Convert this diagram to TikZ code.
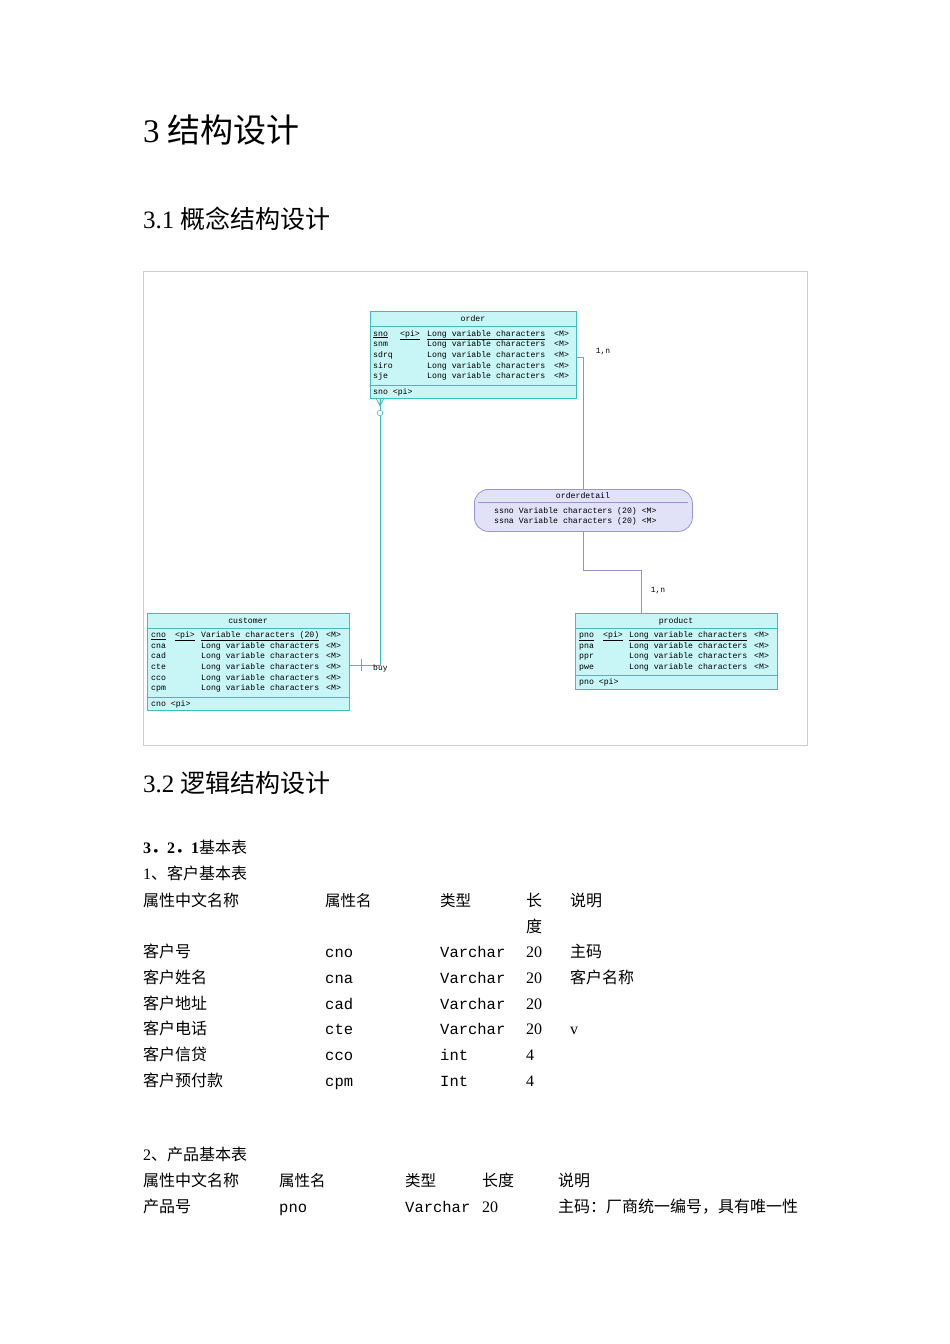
\documentclass[tikz,border=0pt]{standalone}
\usepackage{fontspec}
\setmainfont{Liberation Serif}
\setmonofont{Liberation Mono}
\newfontfamily\cjk{Noto Sans CJK SC}
\definecolor{tcyan}{RGB}{200,245,245}
\definecolor{tedge}{RGB}{60,190,190}
\definecolor{tpurp}{RGB}{225,225,248}
\definecolor{pedge}{RGB}{150,150,210}
\definecolor{lpurp}{RGB}{150,140,210}
\tikzset{
 tbl/.style={draw=tedge,fill=tcyan,line width=0.8pt,inner sep=0,anchor=north west},
 att/.style={anchor=base west,inner sep=0,font=\fontsize{8.2}{8}\ttfamily},
 ttl/.style={anchor=base,inner sep=0,font=\fontsize{8.2}{8}\ttfamily},
 body/.style={anchor=base west,inner sep=0,font=\fontsize{16}{18}\selectfont},
 bmono/.style={body,font=\fontsize{15.5}{18}\ttfamily},
 rel/.style={draw=lpurp,line width=0.7pt},
 card/.style={inner sep=0,font=\fontsize{8}{8}\ttfamily},
}
\begin{document}
\begin{tikzpicture}[x=1pt,y=-1pt]
\useasboundingbox (0,0) rectangle (950,1344);
\node[body,font=\fontsize{33}{36}\selectfont] (h1) at (143,142) {3 {\cjk 结构设计}};
\node[body,font=\fontsize{25}{28}\selectfont] (h2) at (143,228) {3.1 {\cjk 概念结构设计}};
\draw[gray!40,line width=0.6pt] (143,271) rectangle (807,745);

% order
\node[tbl,minimum width=206pt,minimum height=87pt] (order) at (370,311) {};
\draw[tedge] (370,326)--(576,326) (370,385)--(576,385);
\node[ttl] (ordt) at (473,321) {order};
\foreach \n/\y/\p in {sno/336/1,snm/346.7/0,sdrq/357.4/0,siro/368.1/0,sje/378.8/0}{
 \node[att] at (373,\y) {\ifnum\p=1\underline{\n}\else\n\fi};
 \node[att] at (427,\y) {\ifnum\p=1\underline{Long variable characters}\else Long variable characters\fi};
 \node[att] at (554,\y) {<M>};}
\node[att] at (400,336) {\underline{<pi>}};
\node[att] (ordf) at (373,394) {sno <pi>};

% orderdetail
\node[draw=pedge,fill=tpurp,rounded corners=14pt,minimum width=218pt,minimum height=42pt,anchor=north west,inner sep=0,line width=0.8pt] (od) at (474,489) {};
\draw[pedge] (478,502)--(688,502);
\node[ttl] at (583,498) {orderdetail};
\node[att] at (494,513) {ssno Variable characters (20) <M>};
\node[att] at (494,523.5) {ssna Variable characters (20) <M>};

% customer
\node[tbl,minimum width=202pt,minimum height=97pt] (cust) at (147,613) {};
\draw[tedge] (147,628)--(349,628) (147,697)--(349,697);
\node[ttl] at (248,623) {customer};
\node[att] at (175,637.5) {\underline{<pi>}};
\node[att] at (201,637.5) {\underline{Variable characters (20)}};
\foreach \n/\y in {cna/648,cad/658.7,cte/669.4,cco/680,cpm/690.6}{
 \node[att] at (151,\y) {\n};
 \node[att] at (201,\y) {Long variable characters};}
\node[att] at (151,637.5) {\underline{cno}};
\foreach \y in {637.5,648,658.7,669.4,680,690.6}{\node[att] at (326,\y) {<M>};}
\node[att] at (151,706) {cno <pi>};

% product
\node[tbl,minimum width=202pt,minimum height=76pt] (prod) at (575,613) {};
\draw[tedge] (575,628)--(777,628) (575,675)--(777,675);
\node[ttl] at (676,623) {product};
\node[att] at (579,637.5) {\underline{pno}};
\node[att] at (603,637.5) {\underline{<pi>}};
\node[att] at (629,637.5) {\underline{Long variable characters}};
\foreach \n/\y in {pna/648,ppr/658.7,pwe/669.4}{
 \node[att] at (579,\y) {\n};
 \node[att] at (629,\y) {Long variable characters};}
\foreach \y in {637.5,648,658.7,669.4}{\node[att] at (754,\y) {<M>};}
\node[att] at (579,684) {pno <pi>};

% connectors
\coordinate (o1) at (576,357);
\coordinate (od1) at (583,489);
\draw[rel] (o1) -- (583,357) -- (od1);
\coordinate (od2) at (583,531);
\coordinate (p1) at (641,613);
\draw[rel] (od2) -- (583,570) -- (641,570) -- (p1);
\node[card] (c1) at (603,352) {1,n};
\node[card] (c2) at (658,591) {1,n};
\coordinate (o2) at (380,398);
\coordinate (cu1) at (349,665);
\draw[tedge,line width=0.7pt] (o2) -- (380,665) -- (cu1);
\draw[tedge,line width=0.7pt] (376,398)--(380,406)--(384,398) (380,398)--(380,406);
\draw[tedge,fill=white,line width=0.6pt] (380,413) circle (2.8pt);
\draw[tedge,line width=0.7pt] (361,659)--(361,671);
\node[card,anchor=west] (buy) at (373,668) {buy};

% section 3.2
\node[body,font=\fontsize{25}{28}\selectfont] (h3) at (143,792) {3.2 {\cjk 逻辑结构设计}};
\node[body] at (143,853) {\textbf{3{\cjk ．}2{\cjk ．}1}{\cjk 基本表}};
\node[body] at (143,879) {1{\cjk 、客户基本表}};
\foreach \a/\b/\c/\d/\e/\y in {
 {\cjk 属性中文名称}/{\cjk 属性名}/{\cjk 类型}/{\cjk 长}/{\cjk 说明}/906,
 //{}/{\cjk 度}//932,
 {\cjk 客户号}/cno/Varchar/20/{\cjk 主码}/957,
 {\cjk 客户姓名}/cna/Varchar/20/{\cjk 客户名称}/983,
 {\cjk 客户地址}/cad/Varchar/20//1009,
 {\cjk 客户电话}/cte/Varchar/20/v/1034,
 {\cjk 客户信贷}/cco/int/4//1060,
 {\cjk 客户预付款}/cpm/Int/4//1086}{
 \node[body] at (143,\y) {\a};
 \node[bmono] at (325,\y) {\b};
 \node[bmono] at (440,\y) {\c};
 \node[body] at (526,\y) {\d};
 \node[body] at (570,\y) {\e};}
\node[body] at (143,1160) {2{\cjk 、产品基本表}};
\foreach \a/\b/\c/\d/\e/\y in {
 {\cjk 属性中文名称}/{\cjk 属性名}/{\cjk 类型}/{\cjk 长度}/{\cjk 说明}/1186,
 {\cjk 产品号}/pno/Varchar/20/{\cjk 主码：厂商统一编号，具有唯一性}/1212}{
 \node[body] at (143,\y) {\a};
 \node[bmono] at (279,\y) {\b};
 \node[bmono] at (405,\y) {\c};
 \node[body] at (482,\y) {\d};
 \node[body] at (558,\y) {\e};}
\end{tikzpicture}
\end{document}
